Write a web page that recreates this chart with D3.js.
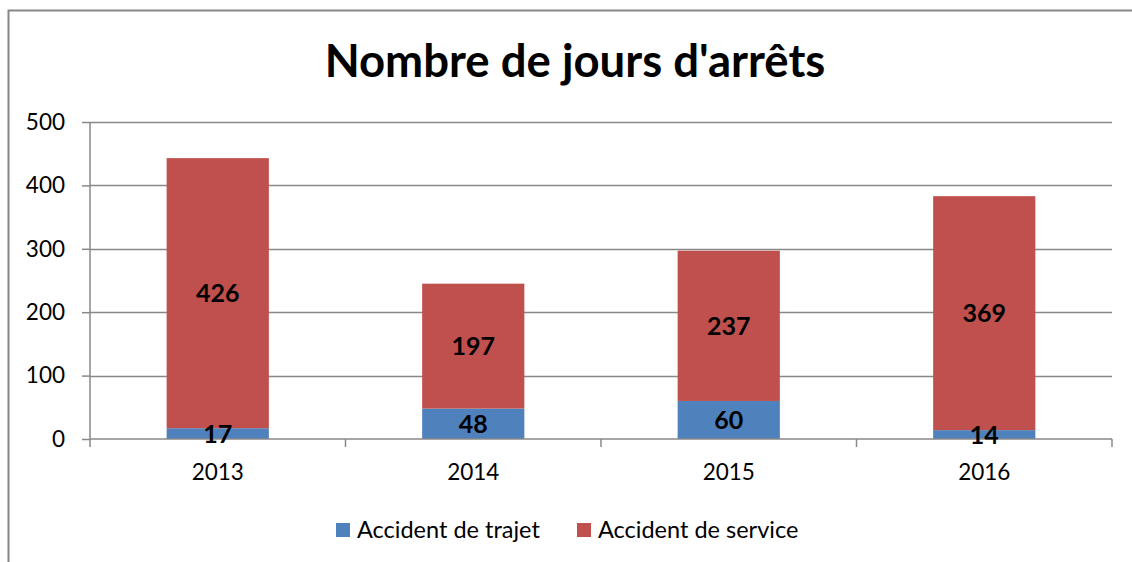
<!DOCTYPE html>
<html><head><meta charset="utf-8">
<script src="https://cdn.jsdelivr.net/npm/d3@7"></script>
<style>body{margin:0;background:#fff;} svg{display:block;}</style>
</head><body>
<script>
const categories = ["2013", "2014", "2015", "2016"];
const trajet = [17, 48, 60, 14];
const service = [426, 197, 237, 369];
const seriesNames = ["Accident de trajet", "Accident de service"];
const yTicks = [0, 100, 200, 300, 400, 500];
const colors = ["#4F81BD", "#C0504D"];

const W = 1132, H = 562;
const svg = d3.select("body").append("svg").attr("width", W).attr("height", H);
const font = "Lato, 'Open Sans', sans-serif";

// outer frame
svg.append("rect").attr("x", 8.5).attr("y", 10.5).attr("width", 1140).attr("height", 600)
  .attr("fill", "none").attr("stroke", "#868686").attr("stroke-width", 2);

const pLeft = 90, pRight = 1112, pTop = 122, pBottom = 439;
const x = d3.scaleBand().domain(categories).range([pLeft, pRight]).padding(0);
const y = d3.scaleLinear().domain([0, 500]).range([pBottom, pTop]);

// title
svg.append("text").attr("x", 575).attr("y", 77).attr("text-anchor", "middle")
  .attr("font-family", font).attr("font-weight", "bold").attr("font-size", 45.5).attr("fill", "#000")
  .text("Nombre de jours d'arrêts");

// gridlines
svg.append("g").selectAll("line").data(yTicks.filter(d => d > 0)).join("line")
  .attr("x1", pLeft).attr("x2", pRight).attr("y1", d => Math.round(y(d)) + 0.5).attr("y2", d => Math.round(y(d)) + 0.5)
  .attr("stroke", "#888").attr("stroke-width", 1.5);

// bars
const stackData = categories.map((c, i) => ({cat: c, trajet: trajet[i], service: service[i]}));
const stack = d3.stack().keys(["trajet", "service"])(stackData);
const bw = x.bandwidth() * 0.4;
stack.forEach((s, si) => {
  const g = svg.append("g");
  g.selectAll("rect").data(s).join("rect")
    .attr("x", d => x(d.data.cat) + (x.bandwidth() - bw) / 2)
    .attr("width", bw)
    .attr("y", d => y(d[1]))
    .attr("height", d => y(d[0]) - y(d[1]))
    .attr("fill", colors[si]);
});

// y axis
const yAxis = d3.axisLeft(y).tickValues(yTicks).tickSize(8).tickPadding(17);
const gy = svg.append("g").attr("transform", `translate(${pLeft},0)`).call(yAxis);
gy.select(".domain").attr("stroke", "#888").attr("stroke-width", 1.5).attr("d", `M0,${pTop}V${pBottom}`);
gy.selectAll(".tick line").attr("stroke", "#888").attr("stroke-width", 1.5);
gy.selectAll(".tick text").attr("font-family", font).attr("font-size", 22.5).attr("fill", "#000");

// x axis
const xAxis = d3.axisBottom(x).tickSize(0).tickPadding(25);
const gx = svg.append("g").attr("transform", `translate(0,${pBottom})`).call(xAxis);
gx.select(".domain").attr("stroke", "#888").attr("stroke-width", 1.5).attr("d", `M${pLeft},0H${pRight}`);
gx.selectAll(".tick text").attr("font-family", font).attr("font-size", 22.5).attr("fill", "#000");
const boundaries = categories.map(c => x(c)).concat([pRight]);
gx.append("g").selectAll("line").data(boundaries).join("line")
  .attr("x1", d => d).attr("x2", d => d).attr("y1", 0).attr("y2", 8)
  .attr("stroke", "#888").attr("stroke-width", 1.5);

// value labels
stack.forEach((s, si) => {
  svg.append("g").selectAll("text").data(s).join("text")
    .attr("x", d => x(d.data.cat) + x.bandwidth() / 2)
    .attr("y", d => (y(d[0]) + y(d[1])) / 2)
    .attr("dy", "0.36em")
    .attr("text-anchor", "middle")
    .attr("font-family", font).attr("font-weight", "bold").attr("font-size", 25).attr("fill", "#000")
    .text(d => d[1] - d[0]);
});

// legend
const legendItems = [{name: seriesNames[0], x: 336, color: colors[0]}, {name: seriesNames[1], x: 577, color: colors[1]}];
const lg = svg.append("g");
legendItems.forEach(it => {
  lg.append("rect").attr("x", it.x).attr("y", 523).attr("width", 14).attr("height", 14).attr("fill", it.color);
  lg.append("text").attr("x", it.x + 21).attr("y", 530).attr("dy", "0.36em")
    .attr("font-family", font).attr("font-size", 23.5).attr("fill", "#000").text(it.name);
});
</script>
</body></html>
